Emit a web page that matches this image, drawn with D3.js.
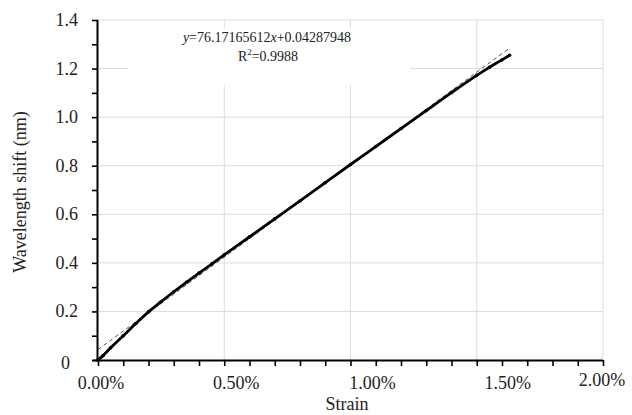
<!DOCTYPE html>
<html>
<head>
<meta charset="utf-8">
<script src="https://cdn.jsdelivr.net/npm/d3@7"></script>
<style>
  body { margin: 0; background: #fff; }
  text { font-family: "Liberation Serif", "DejaVu Serif", serif; fill: #222; }
</style>
</head>
<body>
<script>
// strain (fraction) vs wavelength shift (nm)
const strain = [0, 0.0002, 0.0005, 0.001, 0.0015, 0.002, 0.0025, 0.003, 0.0035, 0.004,
  0.0045, 0.005, 0.006, 0.007, 0.008, 0.009, 0.010, 0.011, 0.012, 0.013,
  0.014, 0.015, 0.0155, 0.016, 0.0163];
const shift = [0, 0.018, 0.050, 0.100, 0.150, 0.198, 0.240, 0.281, 0.320, 0.358,
  0.395, 0.433, 0.507, 0.581, 0.655, 0.730, 0.805, 0.879, 0.953, 1.027,
  1.101, 1.172, 1.205, 1.236, 1.255];

const fitSlope = 76.17165612;
const fitIntercept = 0.04287948;
const fitRange = [0, 0.0163];

const xTicks = [0, 0.005, 0.01, 0.015, 0.02];
const xTickLabels = ["0.00%", "0.50%", "1.00%", "1.50%", "2.00%"];
const yTicks = [0, 0.2, 0.4, 0.6, 0.8, 1.0, 1.2, 1.4];
const yTickLabels = ["0", "0.2", "0.4", "0.6", "0.8", "1.0", "1.2", "1.4"];

const width = 632;
const height = 415;
const plot = { left: 98, right: 603, top: 20, bottom: 360 };

const svg = d3.select("body")
  .append("svg")
  .attr("width", width)
  .attr("height", height);

const x = d3.scaleLinear().domain([0, 0.02]).range([plot.left, plot.right]);
const y = d3.scaleLinear().domain([0, 1.4]).range([plot.bottom, plot.top]);

// grid
svg.append("g")
  .selectAll("line")
  .data(yTicks.slice(1))
  .join("line")
  .attr("x1", plot.left).attr("x2", plot.right)
  .attr("y1", d => y(d)).attr("y2", d => y(d))
  .attr("stroke", "#dcdcdc")
  .attr("stroke-width", 1);

svg.append("g")
  .selectAll("line")
  .data(xTicks.slice(1))
  .join("line")
  .attr("x1", d => x(d)).attr("x2", d => x(d))
  .attr("y1", plot.top).attr("y2", plot.bottom)
  .attr("stroke", "#dcdcdc")
  .attr("stroke-width", 1);

// white box behind the equation
svg.append("rect")
  .attr("x", 128).attr("y", 28)
  .attr("width", 282).attr("height", 57)
  .attr("fill", "#fff");

// fitted trend line
svg.append("line")
  .attr("x1", x(fitRange[0])).attr("y1", y(fitSlope * fitRange[0] + fitIntercept))
  .attr("x2", x(fitRange[1])).attr("y2", y(fitSlope * fitRange[1] + fitIntercept))
  .attr("stroke", "#555")
  .attr("stroke-width", 1)
  .attr("stroke-dasharray", "4,3");

// measured data
const pts = strain.map((s, i) => [s, shift[i]]);

svg.append("path")
  .datum(pts)
  .attr("fill", "none")
  .attr("stroke", "#000")
  .attr("stroke-width", 2.8)
  .attr("d", d3.line().curve(d3.curveMonotoneX).x(d => x(d[0])).y(d => y(d[1])));

svg.append("g")
  .selectAll("circle")
  .data(pts)
  .join("circle")
  .attr("cx", d => x(d[0]))
  .attr("cy", d => y(d[1]))
  .attr("r", 1.8)
  .attr("fill", "#000");

// axes
const minorX = d3.range(0, 0.02001, 0.001);
const xAxis = svg.append("g")
  .attr("transform", `translate(0,${plot.bottom})`)
  .call(d3.axisBottom(x).tickValues(minorX).tickSize(6).tickSizeOuter(0).tickFormat(""));
xAxis.select(".domain").attr("stroke-width", 2).attr("d", `M${plot.left - 5},0.5H${plot.right}`);
xAxis.selectAll(".tick line").attr("stroke-width", 1.6);

const xLabelDx = [3, 12, 22, 31, -1];
const xLabelDy = [0, 0, 0, 0, -3];
svg.append("g")
  .selectAll("text")
  .data(xTicks)
  .join("text")
  .attr("x", (d, i) => x(d) + xLabelDx[i])
  .attr("y", (d, i) => plot.bottom + 29 + xLabelDy[i])
  .attr("text-anchor", "middle")
  .style("font-size", "18px")
  .text((d, i) => xTickLabels[i]);

const minorY = d3.range(0, 1.401, 0.1);
const yAxis = svg.append("g")
  .attr("transform", `translate(${plot.left},0)`)
  .call(d3.axisLeft(y).tickValues(minorY).tickSize(6).tickSizeOuter(0).tickFormat(""));
yAxis.select(".domain").attr("stroke-width", 2).attr("d", `M-0.5,${plot.top}V${plot.bottom}`);
yAxis.selectAll(".tick line").attr("stroke-width", 1.6);

svg.append("g")
  .selectAll("text")
  .data(yTicks)
  .join("text")
  .attr("x", (d, i) => i === 0 ? 70 : 78)
  .attr("y", (d, i) => y(d) + 6 + (i === 0 ? 3 : 0))
  .attr("text-anchor", "end")
  .style("font-size", "18px")
  .text((d, i) => yTickLabels[i]);

// axis titles
svg.append("text")
  .attr("x", 347)
  .attr("y", 410)
  .attr("text-anchor", "middle")
  .style("font-size", "18px")
  .text("Strain");

svg.append("text")
  .attr("transform", "translate(26,192) rotate(-90)")
  .attr("text-anchor", "middle")
  .style("font-size", "18px")
  .text("Wavelength shift (nm)");

// equation
const eq = svg.append("text")
  .attr("x", 267)
  .attr("y", 42)
  .attr("text-anchor", "middle")
  .style("font-size", "14px");
eq.append("tspan").style("font-style", "italic").text("y");
eq.append("tspan").text("=" + fitSlope.toFixed(8));
eq.append("tspan").style("font-style", "italic").text("x");
eq.append("tspan").text("+" + fitIntercept.toFixed(8));

const r2 = svg.append("text")
  .attr("x", 268)
  .attr("y", 61)
  .attr("text-anchor", "middle")
  .style("font-size", "14px");
r2.append("tspan").text("R");
r2.append("tspan").attr("dy", -6).style("font-size", "9px").text("2");
r2.append("tspan").attr("dy", 6).text("=0.9988");
</script>
</body>
</html>
